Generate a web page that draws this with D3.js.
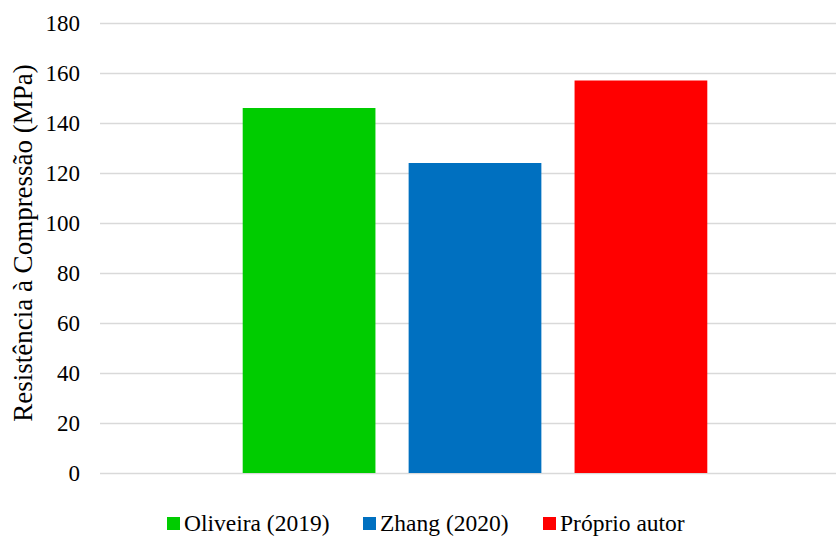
<!DOCTYPE html>
<html><head><meta charset="utf-8">
<script src="https://cdn.jsdelivr.net/npm/d3@7"></script>
<style>body{margin:0;background:#fff}svg{display:block}</style>
</head><body><svg id="c" width="836" height="537"></svg>
<script>
const categories = [""];
const series = ["Oliveira (2019)", "Zhang (2020)", "Próprio autor"];
const values = [146, 124, 157];
const colors = ["#00cc00", "#0070c0", "#ff0000"];
const yTicks = [0, 20, 40, 60, 80, 100, 120, 140, 160, 180];

(function () {
const FONT = "'Liberation Serif', serif";
const svg = d3.select("#c");
const pl = 100, pr = 850, pt = 23, pb = 473;
const y = d3.scaleLinear().domain([0, 180]).range([pb, pt]);
const x0 = d3.scaleBand().domain(categories).range([pl, pr]);
const bw0 = x0.bandwidth();
const innerW = bw0 * 3.5 / 5.65;
const cx = x0(categories[0]) + bw0 / 2;
const x1 = d3.scaleBand().domain(series)
  .range([cx - innerW / 2, cx + innerW / 2])
  .paddingInner(0.2);

// gridlines via axis (no labels)
const yAxis = d3.axisLeft(y).tickValues(yTicks).tickSize(-(pr - pl)).tickFormat("");
const gA = svg.append("g").attr("transform", `translate(${pl},0)`).call(yAxis);
gA.select(".domain").remove();
gA.selectAll(".tick line").attr("stroke", "#d9d9d9").attr("stroke-width", 1.5);
gA.selectAll(".tick text").remove();

// tick labels directly in svg root
svg.selectAll("text.ytick").data(yTicks).join("text")
  .attr("class", "ytick")
  .attr("x", pl - 20).attr("y", d => y(d)).attr("dy", "0.36em")
  .attr("text-anchor", "end").attr("fill", "#000")
  .style("font-family", FONT, "important").style("font-size", "23px", "important")
  .text(d => d);

svg.append("g").selectAll("rect").data(series).join("rect")
  .attr("x", d => x1(d)).attr("width", x1.bandwidth())
  .attr("y", (d, i) => y(values[i])).attr("height", (d, i) => y(0) - y(values[i]))
  .attr("fill", (d, i) => colors[i]);

svg.append("text").attr("transform", `translate(32,${(pt + pb) / 2 - 5}) rotate(-90)`)
  .attr("text-anchor", "middle")
  .style("font-family", FONT, "important").style("font-size", "27px", "important")
  .text("Resistência à Compressão (MPa)");

// legend, directly in svg root
const legX = [167, 363, 543];
svg.selectAll("rect.leg").data(series).join("rect")
  .attr("class", "leg")
  .attr("x", (d, i) => legX[i]).attr("y", 517).attr("width", 13).attr("height", 13)
  .attr("fill", (d, i) => colors[i]);
svg.selectAll("text.leg").data(series).join("text")
  .attr("class", "leg")
  .attr("x", (d, i) => legX[i] + 17).attr("y", 531).attr("fill", "#000")
  .style("font-family", FONT, "important").style("font-size", "23.5px", "important")
  .text(d => d);
})();
</script></body></html>
